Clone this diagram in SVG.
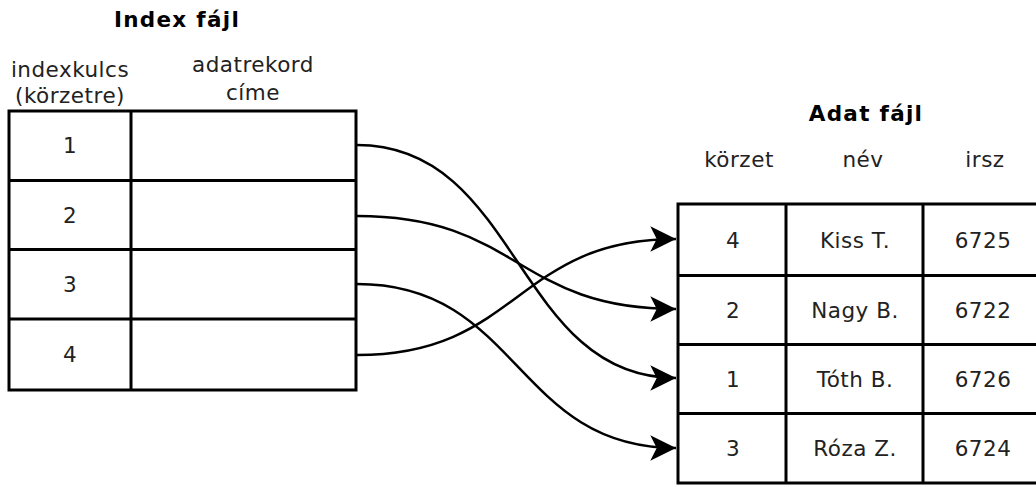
<svg xmlns="http://www.w3.org/2000/svg" width="1036" height="487" viewBox="0 0 1036 487">
<style>
text{font-family:"DejaVu Sans","Liberation Sans",sans-serif;font-size:21.5px;fill:#222;text-anchor:middle;letter-spacing:0.5px}
.title{font-weight:bold;fill:#000;letter-spacing:1.3px}
.tbl{fill:#fff;stroke:#000;stroke-width:3}
.ln{stroke:#000;stroke-width:3;fill:none}
.con{stroke:#000;stroke-width:2.5;fill:none;marker-end:url(#arr)}
</style>
<defs>
<marker id="arr" markerUnits="userSpaceOnUse" markerWidth="30" markerHeight="30" viewBox="-26 -14 28 28" refX="0" refY="0" orient="auto">
<path d="M0,0 L-24,-12 L-18,0 L-24,12 Z" fill="#000"/>
</marker>
</defs>
<text class="title" x="177" y="27">Index fájl</text>
<text x="70" y="77">indexkulcs</text>
<text x="70" y="103">(körzetre)</text>
<text x="253" y="72">adatrekord</text>
<text x="253" y="100">címe</text>
<g id="index-table">
<rect class="tbl" x="9" y="111" width="347" height="279"/>
<path class="ln" d="M131,111V390M9,180.5H356M9,249.5H356M9,319H356"/>
<text x="70" y="153">1</text>
<text x="70" y="223">2</text>
<text x="70" y="292">3</text>
<text x="70" y="362">4</text>
</g>
<text class="title" x="866" y="121">Adat fájl</text>
<text x="739" y="167">körzet</text>
<text x="863" y="167">név</text>
<text x="985" y="167">irsz</text>
<g id="data-table">
<rect class="tbl" x="678" y="204" width="364" height="279"/>
<path class="ln" d="M786,204V483M923,204V483M678,275.5H1042M678,344.5H1042M678,413.5H1042"/>
<text x="733" y="248">4</text>
<text x="855" y="248">Kiss T.</text>
<text x="983" y="248">6725</text>
<text x="733" y="318">2</text>
<text x="855" y="318">Nagy B.</text>
<text x="983" y="318">6722</text>
<text x="733" y="387">1</text>
<text x="855" y="387">Tóth B.</text>
<text x="983" y="387">6726</text>
<text x="733" y="456">3</text>
<text x="855" y="456">Róza Z.</text>
<text x="983" y="456">6724</text>
</g>
<g id="connectors">
<path class="con" d="M357,145 C520,145 515,378 676,378"/>
<path class="con" d="M357,216 C520,216 515,309 676,309"/>
<path class="con" d="M357,284 C520,284 515,448 676,448"/>
<path class="con" d="M357,355 C520,355 515,239 676,239"/>
</g>
</svg>
